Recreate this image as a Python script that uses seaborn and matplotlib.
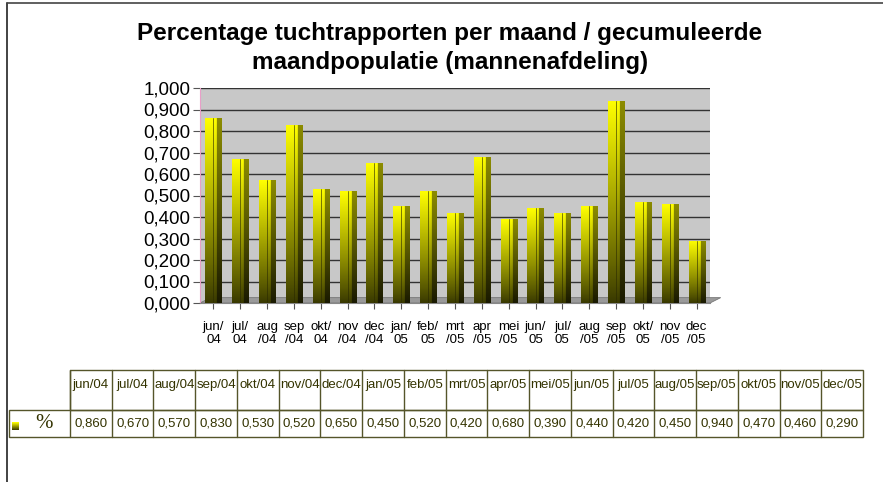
import numpy as np
import pandas as pd
import matplotlib
matplotlib.use("Agg")
import matplotlib.pyplot as plt
import seaborn as sns
from matplotlib.patches import Rectangle, Polygon

# ---------------------------------------------------------------------------
# data
# ---------------------------------------------------------------------------
months = ["jun/04", "jul/04", "aug/04", "sep/04", "okt/04", "nov/04", "dec/04",
          "jan/05", "feb/05", "mrt/05", "apr/05", "mei/05", "jun/05", "jul/05",
          "aug/05", "sep/05", "okt/05", "nov/05", "dec/05"]
axis_labels = ["jun/\n04", "jul/\n04", "aug\n/04", "sep\n/04", "okt/\n04", "nov\n/04",
               "dec\n/04", "jan/\n05", "feb/\n05", "mrt\n/05", "apr\n/05", "mei\n/05",
               "jun/\n05", "jul/\n05", "aug\n/05", "sep\n/05", "okt/\n05", "nov\n/05",
               "dec\n/05"]
values = [0.860, 0.670, 0.570, 0.830, 0.530, 0.520, 0.650, 0.450, 0.520, 0.420,
          0.680, 0.390, 0.440, 0.420, 0.450, 0.940, 0.470, 0.460, 0.290]
yticks = [0.0, 0.1, 0.2, 0.3, 0.4, 0.5, 0.6, 0.7, 0.8, 0.9, 1.0]

df = pd.DataFrame({"maand": months, "pct": values})

sns.set_style("white")
plt.rcParams["font.family"] = ["Liberation Sans", "DejaVu Sans"]
plt.rcParams["text.color"] = "black"
plt.rcParams["xtick.color"] = "black"
plt.rcParams["ytick.color"] = "black"

W, H = 883, 482
fig = plt.figure(figsize=(W / 100, H / 100), dpi=100)

# background axes in pixel coords for frame + data table
bg = fig.add_axes([0, 0, 1, 1])
bg.set_xlim(0, W)
bg.set_ylim(H, 0)
bg.axis("off")
bg.plot([7, 7], [3, H], color="#222222", lw=1.2)
bg.plot([7, W], [3, 3], color="#444444", lw=1.2)


def px_rect(x0, y0, x1, y1):
    return [x0 / W, 1 - y1 / H, (x1 - x0) / W, (y1 - y0) / H]


# ---------------------------------------------------------------------------
# bar chart
# ---------------------------------------------------------------------------
ax = fig.add_axes(px_rect(200, 88, 710, 303))
ax.set_facecolor("#c8c8c8")
sns.barplot(data=df, x="maand", y="pct", color="#ffff00", width=0.6,
            edgecolor="none", ax=ax, zorder=3)
ax.set_xlim(-0.5, len(months) - 0.5)
ax.set_ylim(0, 1.0)
ax.set_yticks(yticks)
ax.set_yticklabels([f"{v:.3f}".replace(".", ",") for v in yticks], fontsize=13.5)
ax.set_xticks(range(len(months)))
ax.set_xticklabels(axis_labels, fontsize=9.5, linespacing=1.15)
ax.set_xlabel("")
ax.set_ylabel("")
ax.grid(axis="y", color="#333333", lw=1.0, zorder=1)
ax.set_axisbelow(True)
for s in ["top", "right"]:
    ax.spines[s].set_visible(False)
ax.spines["left"].set_color("#e8a0c8")
ax.spines["bottom"].set_color("#888888")
ax.tick_params(axis="y", length=5, color="#555555", pad=2)
ax.tick_params(axis="x", length=4, color="#555555", pad=9, direction="out")
ax.tick_params(left=True, bottom=True)

# floor strip
floor = Polygon([[-0.5, 0.0], [len(months) - 0.5, 0.0], [len(months) - 0.1, 0.025],
                 [-0.1, 0.025]], closed=True, facecolor="#9a9a9a",
                edgecolor="#777777", lw=0.6, zorder=2, transform=ax.transData,
                clip_on=False)
ax.add_patch(floor)

# gradient fill for the bars (front face + darker side face)
ny, nx = 120, 20
t = np.linspace(1, 0, ny)[:, None]
front = np.array([1.0, 1.0, 0.0]) * (0.22 + 0.78 * t[..., None] ** 0.9)
side = np.array([1.0, 1.0, 0.0]) * (0.10 + 0.45 * t[..., None])
img = np.zeros((ny, nx, 3))
img[:, :14] = front
img[:, 14:] = side
for p in ax.patches[:len(months)]:
    x0, w = p.get_x(), p.get_width()
    h = p.get_height()
    im = ax.imshow(img, extent=[x0, x0 + w, 0, h], aspect="auto", zorder=4,
                   interpolation="bilinear")
    im.set_clip_path(p)
    ax.plot([x0 + w * 0.5, x0 + w * 0.5], [0, h], color="#2a2a00", lw=0.6,
            zorder=5, alpha=0.7)
ax.set_xlim(-0.5, len(months) - 0.5)
ax.set_ylim(0, 1.0)

# title
fig.text(450 / W, 1 - 48 / H,
         "Percentage tuchtrapporten per maand / gecumuleerde\nmaandpopulatie (mannenafdeling)",
         ha="center", va="center", fontsize=17.5, fontweight="bold", linespacing=1.3)

# ---------------------------------------------------------------------------
# data table
# ---------------------------------------------------------------------------
tc = "#55552a"
txt = "#333300"
x_left, x_right = 70, 863
col_w = (x_right - x_left) / len(months)
y_top, y_mid, y_bot = 370, 410, 437
bg.add_patch(Rectangle((x_left, y_top), x_right - x_left, y_mid - y_top,
                       fill=False, edgecolor=tc, lw=1))
bg.add_patch(Rectangle((9, y_mid), x_right - 9, y_bot - y_mid,
                       fill=False, edgecolor=tc, lw=1))
for i, (m, v) in enumerate(zip(months, values)):
    cx = x_left + (i + 0.5) * col_w
    bg.plot([x_left + i * col_w] * 2, [y_top, y_bot], color=tc, lw=1)
    bg.text(cx, 385, m, ha="center", va="center", fontsize=9.5, color=txt)
    bg.text(cx, 424, f"{v:.3f}".replace(".", ","), ha="center", va="center",
            fontsize=9.5, color=txt)

# legend key + row label
key = np.linspace(1, 0.25, 10)[:, None, None] * np.array([1.0, 1.0, 0.0])
bg.imshow(key, extent=[12, 19, 430, 422], aspect="auto", zorder=3)
bg.set_xlim(0, W)
bg.set_ylim(H, 0)
bg.text(44, 424, "%", ha="center", va="center", fontsize=15, color=txt,
        family=["Liberation Serif", "DejaVu Serif"])

plt.savefig("out.png", dpi=100)
